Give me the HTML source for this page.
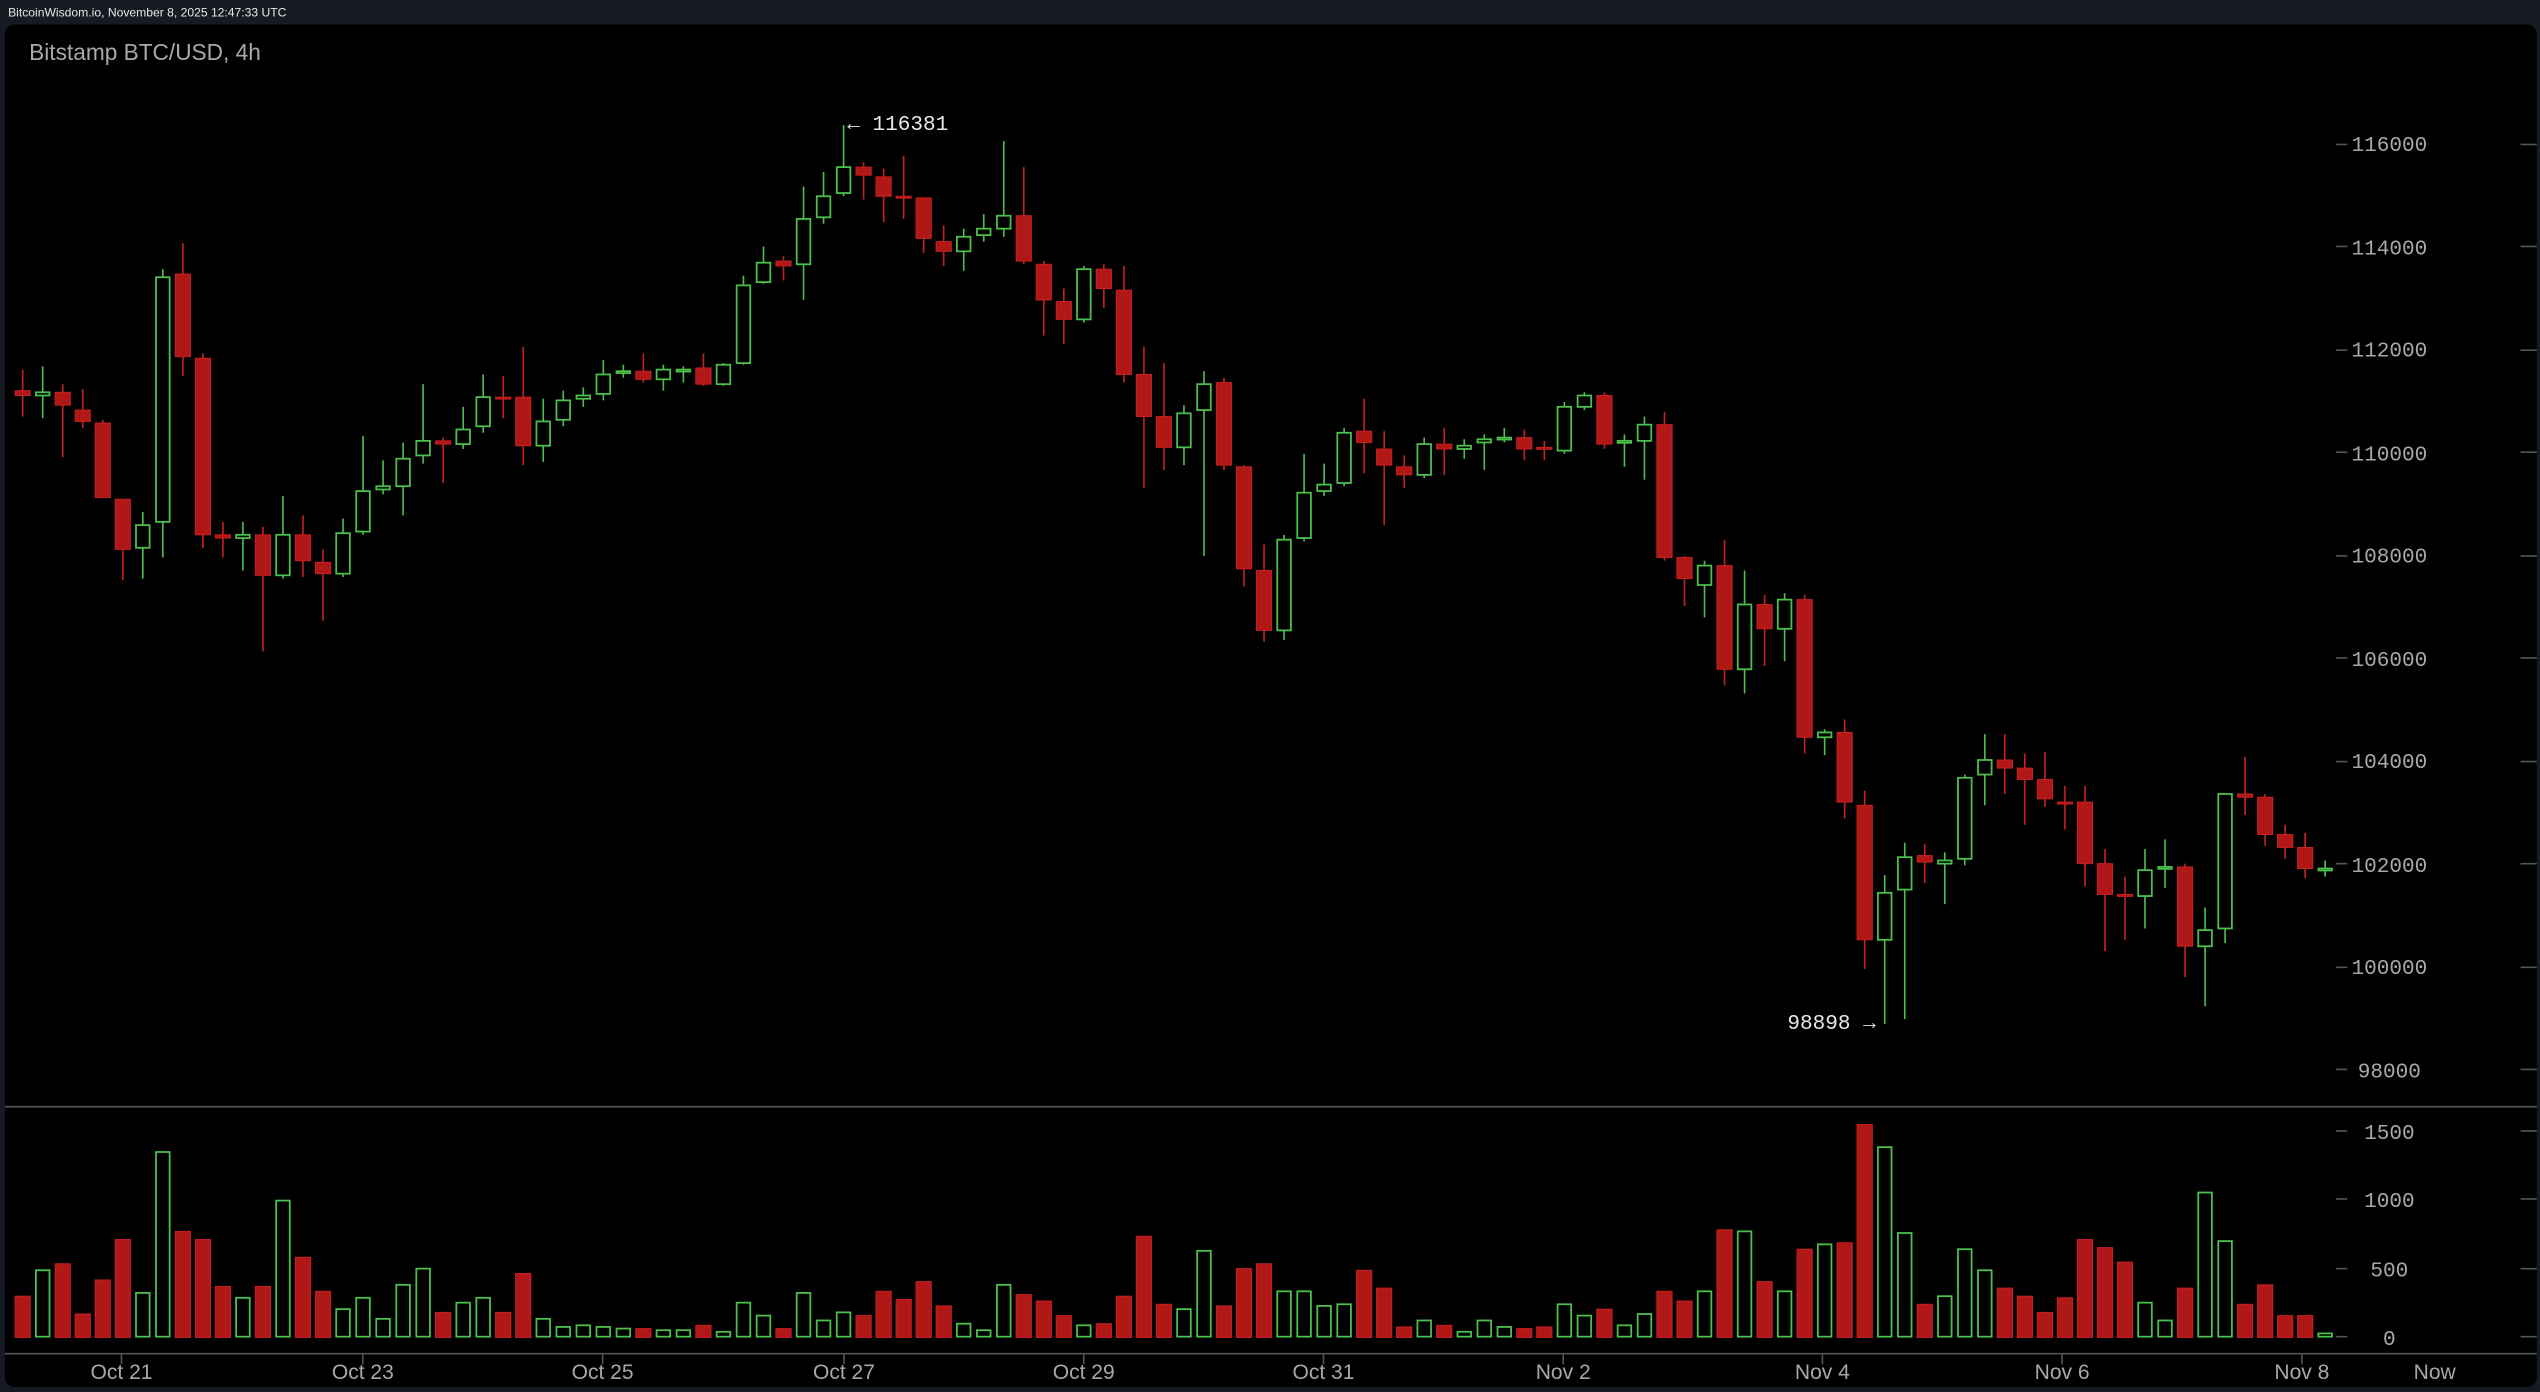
<!DOCTYPE html>
<html><head><meta charset="utf-8"><style>
html,body{margin:0;padding:0;background:#161a22;}
svg{display:block}
</style></head><body>
<svg id="c" width="2540" height="1392" viewBox="0 0 1568 859" xmlns="http://www.w3.org/2000/svg">
<rect x="0" y="0" width="1568" height="859" fill="#161a22"/>
<text x="5" y="10" font-family="Liberation Sans, sans-serif" font-size="7.5" fill="#e6e6e6">BitcoinWisdom.io, November 8, 2025 12:47:33 UTC</text>
<rect x="3" y="15" width="1563" height="841" rx="6" fill="#000"/>
<text x="18" y="37" font-family="Liberation Sans, sans-serif" font-size="14" fill="#a8a8a8">Bitstamp BTC/USD, 4h</text>
<line x1="3" y1="683" x2="1566" y2="683" stroke="#555" stroke-width="1"/>
<line x1="3" y1="835.5" x2="1566" y2="835.5" stroke="#555" stroke-width="1"/>
<g font-family="Liberation Mono, DejaVu Sans Mono, monospace" font-size="13" fill="#a8a8a8" text-anchor="middle">
<text x="1475" y="93">116000</text>
<text x="1475" y="157">114000</text>
<text x="1475" y="220">112000</text>
<text x="1475" y="284">110000</text>
<text x="1475" y="347">108000</text>
<text x="1475" y="411">106000</text>
<text x="1475" y="474">104000</text>
<text x="1475" y="538">102000</text>
<text x="1475" y="601">100000</text>
<text x="1475" y="665">98000</text>
<text x="1475" y="703">1500</text>
<text x="1475" y="745">1000</text>
<text x="1475" y="788">500</text>
<text x="1475" y="830">0</text>
</g>
<g font-family="Liberation Sans, sans-serif" font-size="13" fill="#a8a8a8" text-anchor="middle">
<text x="75" y="851">Oct 21</text>
<text x="224" y="851">Oct 23</text>
<text x="372" y="851">Oct 25</text>
<text x="521" y="851">Oct 27</text>
<text x="669" y="851">Oct 29</text>
<text x="817" y="851">Oct 31</text>
<text x="965" y="851">Nov 2</text>
<text x="1125" y="851">Nov 4</text>
<text x="1273" y="851">Nov 6</text>
<text x="1421" y="851">Nov 8</text>
<text x="1503" y="851">Now</text>
</g>
<g font-family="Liberation Mono, DejaVu Sans Mono, monospace" font-size="13" fill="#e8e8e8">
<text x="523" y="80">← 116381</text>
<text x="1158" y="635" text-anchor="end">98898 →</text>
</g>
<g id="ticks" stroke="#555" stroke-width="1"></g>
<g id="vol"></g>
<g id="cdl"></g>
</svg>
<script>
(function(){
var C=[
['r',241,244,228,257],['g',244,242,226,258],['r',242,250,237,282],['r',253,260,240,264],['r',261,307,259,307],
['r',308,339,308,358],['g',338,324,316,357],['g',322,171,166,344],['r',169,220,150,232],['r',221,330,218,338],
['r',330,332,322,344],['g',332,330,322,352],['r',330,355,325,402],['g',355,330,306,357],['r',330,346,318,356],
['r',347,354,339,383],['g',354,329,320,356],['g',328,303,269,330],['g',302,300,284,305],['g',300,283,273,318],
['g',281,272,237,286],['r',272,274,270,298],['g',274,265,251,277],['g',263,245,231,267],['r',245,246,232,258],
['r',245,275,214,287],['g',275,260,246,285],['g',259,247,241,263],['g',246,244,239,251],['g',243,231,222,247],
['g',230,229,225,233],['r',229,234,218,236],['g',234,228,225,241],['g',229,228,226,236],['r',227,237,218,238],
['g',237,225,224,238],['g',224,176,170,225],['g',174,162,152,175],['r',161,164,158,173],['g',163,135,115,185],
['g',134,121,106,138],['g',119,103,77,121],['r',103,108,100,123],['r',109,121,104,137],['r',121,122,96,135],
['r',122,147,122,156],['r',149,155,139,164],['g',155,146,141,167],['g',145,141,132,149],['g',141,133,87,146],
['r',133,161,103,163],['r',163,185,161,207],['r',186,197,178,212],['g',197,166,164,199],['r',166,178,163,190],
['r',179,231,164,236],['r',231,257,214,301],['r',257,276,224,290],['g',276,255,250,287],['g',253,237,229,343],
['r',236,287,233,290],['r',288,351,287,362],['r',352,389,336,396],['g',389,333,330,395],['g',332,304,280,334],
['g',303,299,286,306],['g',298,267,264,300],['r',266,273,246,292],['r',277,287,266,324],['r',288,293,281,301],
['g',293,274,270,295],['r',274,277,264,293],['g',277,275,271,283],['g',273,271,268,290],['g',271,270,264,273],
['r',270,277,265,284],['r',276,277,272,284],['g',278,251,248,280],['g',251,244,242,253],['r',244,274,242,277],
['g',273,272,268,288],['g',272,262,257,296],['r',262,344,254,346],['r',344,357,343,374],['g',361,349,346,381],
['r',349,413,333,423],['g',413,373,352,428],['r',373,388,367,411],['g',388,370,366,408],['r',370,455,367,465],
['g',455,452,450,466],['r',452,495,444,505],['r',497,580,488,598],['g',580,551,540,632],['g',549,529,520,629],
['r',528,532,521,545],['g',533,531,526,558],['g',530,480,478,534],['g',478,469,453,497],['r',469,474,453,490],
['r',474,481,465,509],['r',481,493,464,498],['r',495,496,485,512],['r',495,533,485,547],['r',533,552,524,587],
['r',552,553,541,580],['g',553,537,524,573],['g',536,535,518,548],['r',535,584,533,603],['g',584,574,560,621],
['g',573,490,490,582],['r',490,492,467,503],['r',492,515,490,522],['r',515,523,509,530],['r',523,536,514,542],
['g',537,536,531,541]];
var V=[800,784,780,811,790,765,798,711,760,765,794,801,794,741,776,797,808,801,814,793,783,810,804,801,810,786,814,819,818,819,820,820,821,821,818,822,804,812,820,798,815,810,812,797,802,791,806,817,821,793,799,803,812,818,817,800,763,805,808,772,806,783,780,797,797,806,805,784,795,819,815,818,822,815,819,820,819,805,812,808,818,811,797,803,797,759,760,791,797,771,768,767,694,708,761,805,800,771,784,795,800,810,801,765,770,779,804,815,795,736,766,805,793,812,812,823];
var G='#4cc04c',R='#b01818',RS='#c82020';
var ns='http://www.w3.org/2000/svg';
function el(p,t,a){var e=document.createElementNS(ns,t);for(var k in a)e.setAttribute(k,a[k]);p.appendChild(e);return e;}
var cg=document.getElementById('cdl'),vg=document.getElementById('vol'),tg=document.getElementById('ticks');
for(var i=0;i<C.length;i++){
 var c=C[i],x=14+12.36*i,g=c[0]=='g';
 var t0=Math.min(c[1],c[2]),b0=Math.max(c[1],c[2]);if(b0-t0<1.2)b0=t0+1.2;
 el(cg,'line',{x1:x,x2:x,y1:c[3],y2:t0,stroke:g?G:RS,'stroke-width':1});
 el(cg,'line',{x1:x,x2:x,y1:b0,y2:c[4],stroke:g?G:RS,'stroke-width':1});
 if(g)el(cg,'rect',{x:x-4.2,y:t0,width:8.4,height:b0-t0,fill:'none',stroke:G,'stroke-width':1.1});
 else el(cg,'rect',{x:x-4.7,y:t0,width:9.4,height:b0-t0,fill:R,stroke:RS,'stroke-width':0.6});
 var vt=V[i];
 if(g)el(vg,'rect',{x:x-4.2,y:vt,width:8.4,height:825-vt,fill:'none',stroke:G,'stroke-width':1.1});
 else el(vg,'rect',{x:x-4.7,y:vt,width:9.4,height:825.5-vt,fill:R,stroke:RS,'stroke-width':0.6});
}
var ys=[89,152,216,279,343,406,470,533,597,660,698,740,783,825];
ys.forEach(function(y){el(tg,'line',{x1:1442,x2:1449,y1:y,y2:y});el(tg,'line',{x1:1556,x2:1566,y1:y,y2:y});});
[75,224,372,521,669,817,965,1125,1273,1421].forEach(function(x){el(tg,'line',{x1:x,x2:x,y1:836,y2:842});});
})();
</script>
</body></html>
